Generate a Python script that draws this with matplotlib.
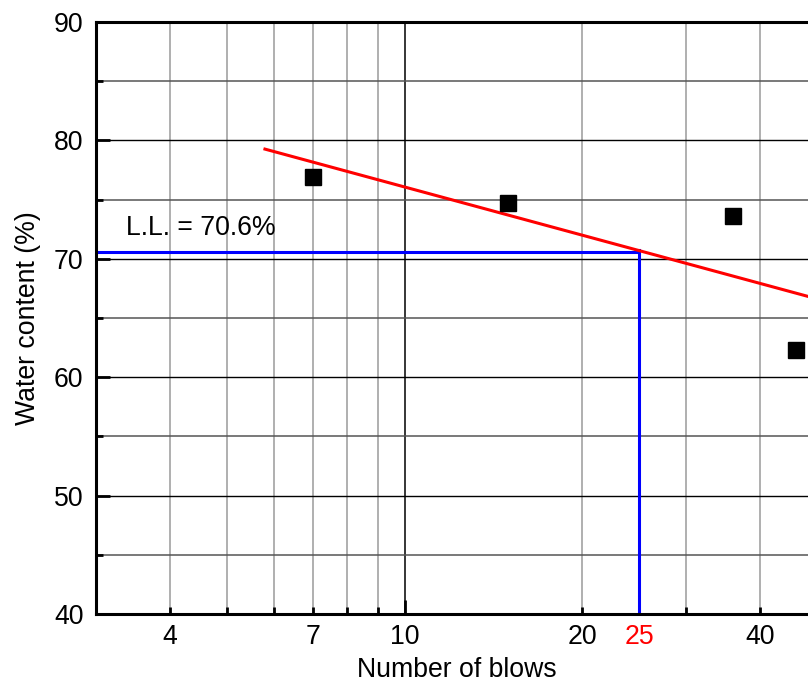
import numpy as np
import matplotlib
matplotlib.use("Agg")
import matplotlib.pyplot as plt
from matplotlib.ticker import FixedLocator, FixedFormatter

plt.rcParams['font.family'] = ['Liberation Sans', 'DejaVu Sans']

# data
blows = [7, 15, 36, 46]
water = [76.9, 74.7, 73.6, 62.3]
LL = 70.6
N_ref = 25

x_major = [10]
x_minor = [4, 5, 6, 7, 8, 9, 20, 25, 30, 40]
x_minor_labels = ['4', '', '', '7', '', '', '20', '25', '', '40']
y_major = [40, 50, 60, 70, 80, 90]
y_minor = [45, 55, 65, 75, 85]

FS = 19.2

fig = plt.figure(figsize=(8.08, 6.87), dpi=100)
ax = fig.add_axes([96/808, 73/687, 721/808, 592/687])
ax.set_xscale('log')
ax.set_xlim(3, 50)
ax.set_ylim(40, 90)

# grid
for v in [4, 5, 6, 7, 8, 9, 20, 30, 40]:
    ax.axvline(v, color='#9a9a9a', lw=1.1, zorder=0)
ax.axvline(10, color='black', lw=1.1, zorder=0)
for h in y_minor:
    ax.axhline(h, color='#555555', lw=1.1, zorder=0)
for h in [50, 60, 70, 80]:
    ax.axhline(h, color='black', lw=1.0, zorder=0)

# fit line
coef = np.polyfit(np.log10(blows), water, 1)
xf = np.logspace(np.log10(5.8), np.log10(60), 50)
ax.plot(xf, np.polyval(coef, np.log10(xf)), color='red', lw=2.2, zorder=3)

# LL lines
ax.plot([3, N_ref], [LL, LL], color='blue', lw=2.2, zorder=2)
ax.plot([N_ref, N_ref], [40, LL + 0.15], color='blue', lw=2.2, zorder=2)

# points
ax.plot(blows, water, 's', color='black', ms=11.5, zorder=4, clip_on=False)

ax.text(3.37, 72.0, 'L.L. = 70.6%', fontsize=FS, va='baseline', ha='left')

# ticks
ax.xaxis.set_major_locator(FixedLocator(x_major))
ax.xaxis.set_major_formatter(FixedFormatter(['10']))
ax.xaxis.set_minor_locator(FixedLocator(x_minor))
ax.xaxis.set_minor_formatter(FixedFormatter(x_minor_labels))
ax.set_yticks(y_major)
ax.set_yticks(y_minor, minor=True)

ax.tick_params(axis='both', which='both', direction='in', width=2, labelsize=FS, colors='black')
ax.tick_params(axis='both', which='major', length=10)
ax.tick_params(axis='both', which='minor', length=5)
ax.tick_params(axis='x', which='both', pad=7)
ax.tick_params(axis='y', which='both', pad=9)
for lbl in ax.xaxis.get_minorticklabels():
    if lbl.get_text() == '25':
        lbl.set_color('red')

for s in ax.spines.values():
    s.set_linewidth(2.2)

ax.set_xlabel('Number of blows', fontsize=FS, labelpad=5)
ax.set_ylabel('Water content (%)', fontsize=FS, labelpad=9)

fig.savefig('out.png', dpi=100)
